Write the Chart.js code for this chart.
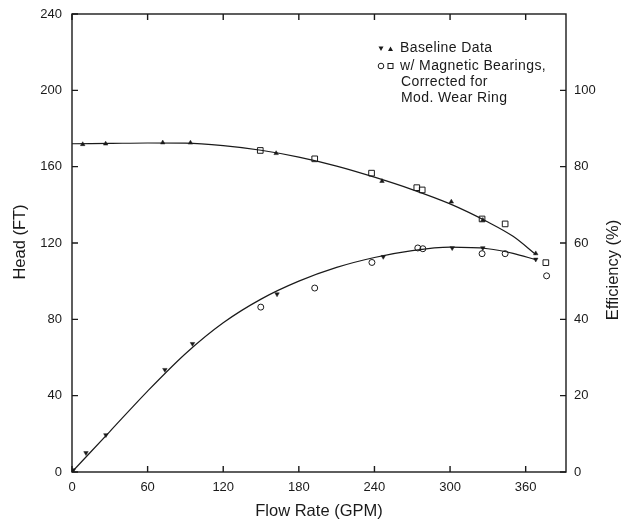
<!DOCTYPE html>
<html>
<head>
<meta charset="utf-8">
<script src="https://cdn.jsdelivr.net/npm/chart.js@4"></script>
<style>
  html, body { margin: 0; padding: 0; background: #fff; }
  #wrap { width: 622px; height: 523px; }
</style>
</head>
<body>
<div id="wrap"><canvas id="myChart" width="622" height="523"></canvas></div>
<script>
// Data
let headBaseGpm = [8.5, 26.7, 72, 94, 162, 246, 301, 326, 368];
let headBase = [171.7, 172, 172.6, 172.5, 167, 152.4, 141.6, 132, 114.5];
let headMagGpm = [149.4, 192.6, 237.7, 273.6, 277.9, 325.4, 343.7, 376];
let headMag = [168.5, 164.1, 156.6, 149, 147.8, 132.6, 130, 109.7];

let effBaseGpm = [1, 11.1, 26.9, 73.7, 95.6, 162.7, 247, 301.7, 326, 368];
let effBase = [0.5, 5, 9.7, 26.8, 33.6, 46.6, 56.4, 58.7, 58.7, 55.7];
let effMagGpm = [149.8, 192.6, 238, 274.4, 278.4, 325.4, 343.7, 376.6];
let effMag = [43.2, 48.2, 54.9, 58.7, 58.5, 57.2, 57.2, 51.4];

// fitted curves
let curveGpm = [0, 30, 60, 90, 120, 150, 180, 210, 240, 270, 300, 330, 350, 368];
let headCurve = [172, 172.2, 172.4, 172.3, 171, 168.6, 165, 160.3, 154.5, 148, 140.5, 131, 123.5, 114];
let effCurve = [0, 10.6, 21.2, 31, 39.1, 45.3, 50, 53.6, 56.2, 58, 58.9, 58.5, 57.3, 55.6];

let xTicks = [0, 60, 120, 180, 240, 300, 360];
let headTicks = [0, 40, 80, 120, 160, 200, 240];
let effTicks = [0, 20, 40, 60, 80, 100];

let ink = "#1a1a1a";
let font = "'Liberation Sans', Arial, sans-serif";

function pairs(xs, ys) {
  return xs.map((x, i) => ({ x: x, y: ys[i] }));
}

function vText(ctx, txt, x, y) {
  ctx.save();
  ctx.translate(x, y);
  ctx.rotate(-Math.PI / 2);
  ctx.fillText(txt, 0, 0);
  ctx.restore();
}

// inward ticks, frame, titles and legend text
const decorate = {
  id: "decorate",
  afterDraw(chart) {
    let ctx = chart.ctx;
    let a = chart.chartArea;
    let sx = chart.scales.x, sy = chart.scales.y, sy2 = chart.scales.y2;
    let t = 6;
    ctx.save();
    ctx.strokeStyle = ink;
    ctx.lineWidth = 1.4;
    ctx.strokeRect(a.left, a.top, a.right - a.left, a.bottom - a.top);
    ctx.beginPath();
    xTicks.forEach((v) => {
      let px = sx.getPixelForValue(v);
      ctx.moveTo(px, a.bottom); ctx.lineTo(px, a.bottom - t);
      ctx.moveTo(px, a.top); ctx.lineTo(px, a.top + t);
    });
    headTicks.forEach((v) => {
      let py = sy.getPixelForValue(v);
      ctx.moveTo(a.left, py); ctx.lineTo(a.left + t, py);
    });
    effTicks.forEach((v) => {
      let py = sy2.getPixelForValue(v);
      ctx.moveTo(a.right, py); ctx.lineTo(a.right - t, py);
    });
    ctx.stroke();

    // axis titles
    ctx.fillStyle = ink;
    ctx.font = "16.5px " + font;
    ctx.textAlign = "center";
    ctx.textBaseline = "middle";
    ctx.fillText("Flow Rate (GPM)", (a.left + a.right) / 2, 511);
    vText(ctx, "Head (FT)", 20, 242);
    vText(ctx, "Efficiency (%)", 613, 270);

    // legend
    ctx.font = "14px " + font;
    ctx.letterSpacing = "0.4px";
    ctx.textAlign = "left";
    let lx = 400;
    ctx.fillText("Baseline Data", lx, 48.5);
    ctx.fillText("w/ Magnetic Bearings,", lx, 66);
    ctx.fillText("Corrected for", lx + 1, 82);
    ctx.fillText("Mod. Wear Ring", lx + 1, 98);
    ctx.letterSpacing = "0px";
    // marker keys
    ctx.beginPath();
    ctx.moveTo(378.5, 46.5); ctx.lineTo(383.5, 46.5); ctx.lineTo(381, 51); ctx.closePath();
    ctx.moveTo(388, 51); ctx.lineTo(393, 51); ctx.lineTo(390.5, 46.5); ctx.closePath();
    ctx.fill();
    ctx.lineWidth = 1;
    ctx.beginPath();
    ctx.arc(381, 66, 2.8, 0, Math.PI * 2);
    ctx.stroke();
    ctx.strokeRect(388, 63.5, 5, 5);
    ctx.restore();
  },
};

function fixWidth(w) {
  return (s) => {
    s.width = w;
    s.paddingTop = 0;
    s.paddingBottom = 0;
  };
}

let ctx = document.getElementById("myChart").getContext("2d");
let myChart = new Chart(ctx, {
  type: "scatter",
  data: {
    datasets: [
      {
        label: "Head curve",
        data: pairs(curveGpm, headCurve),
        yAxisID: "y",
        showLine: true,
        cubicInterpolationMode: "monotone",
        borderColor: ink,
        borderWidth: 1.2,
        pointRadius: 0,
      },
      {
        label: "Efficiency curve",
        data: pairs(curveGpm, effCurve),
        yAxisID: "y2",
        showLine: true,
        cubicInterpolationMode: "monotone",
        borderColor: ink,
        borderWidth: 1.2,
        pointRadius: 0,
      },
      {
        label: "Head baseline",
        data: pairs(headBaseGpm, headBase),
        yAxisID: "y",
        pointStyle: "triangle",
        pointRadius: 2.6,
        backgroundColor: ink,
        borderColor: ink,
        borderWidth: 0.5,
      },
      {
        label: "Efficiency baseline",
        data: pairs(effBaseGpm, effBase),
        yAxisID: "y2",
        pointStyle: "triangle",
        rotation: 180,
        pointRadius: 2.6,
        backgroundColor: ink,
        borderColor: ink,
        borderWidth: 0.5,
      },
      {
        label: "Head magnetic",
        data: pairs(headMagGpm, headMag),
        yAxisID: "y",
        pointStyle: "rect",
        pointRadius: 4,
        backgroundColor: "rgba(255,255,255,0)",
        borderColor: ink,
        borderWidth: 1,
      },
      {
        label: "Efficiency magnetic",
        data: pairs(effMagGpm, effMag),
        yAxisID: "y2",
        pointStyle: "circle",
        pointRadius: 3,
        backgroundColor: "rgba(255,255,255,0)",
        borderColor: ink,
        borderWidth: 1,
      },
    ],
  },
  options: {
    responsive: false,
    animation: false,
    layout: { padding: { top: 14, left: 0, right: 0, bottom: 0 } },
    plugins: { legend: { display: false }, tooltip: { enabled: false } },
    scales: {
      x: {
        type: "linear",
        min: 0,
        max: 392,
        afterBuildTicks: (s) => { s.ticks = xTicks.map((v) => ({ value: v })); },
        afterFit: (s) => { s.height = 51; },
        grid: { display: false, drawTicks: false },
        border: { display: false },
        ticks: { color: ink, font: { family: font, size: 13 }, padding: 8, maxRotation: 0 },
      },
      y: {
        type: "linear",
        position: "left",
        min: 0,
        max: 240,
        afterBuildTicks: (s) => { s.ticks = headTicks.map((v) => ({ value: v })); },
        afterFit: fixWidth(72),
        grid: { display: false, drawTicks: false },
        border: { display: false },
        ticks: { color: ink, font: { family: font, size: 13 }, padding: 10 },
      },
      y2: {
        type: "linear",
        position: "right",
        min: 0,
        max: 120,
        afterBuildTicks: (s) => { s.ticks = effTicks.map((v) => ({ value: v })); },
        afterFit: fixWidth(56),
        grid: { display: false, drawTicks: false },
        border: { display: false },
        ticks: { color: ink, font: { family: font, size: 13 }, padding: 8 },
      },
    },
  },
  plugins: [decorate],
});
</script>
</body>
</html>
